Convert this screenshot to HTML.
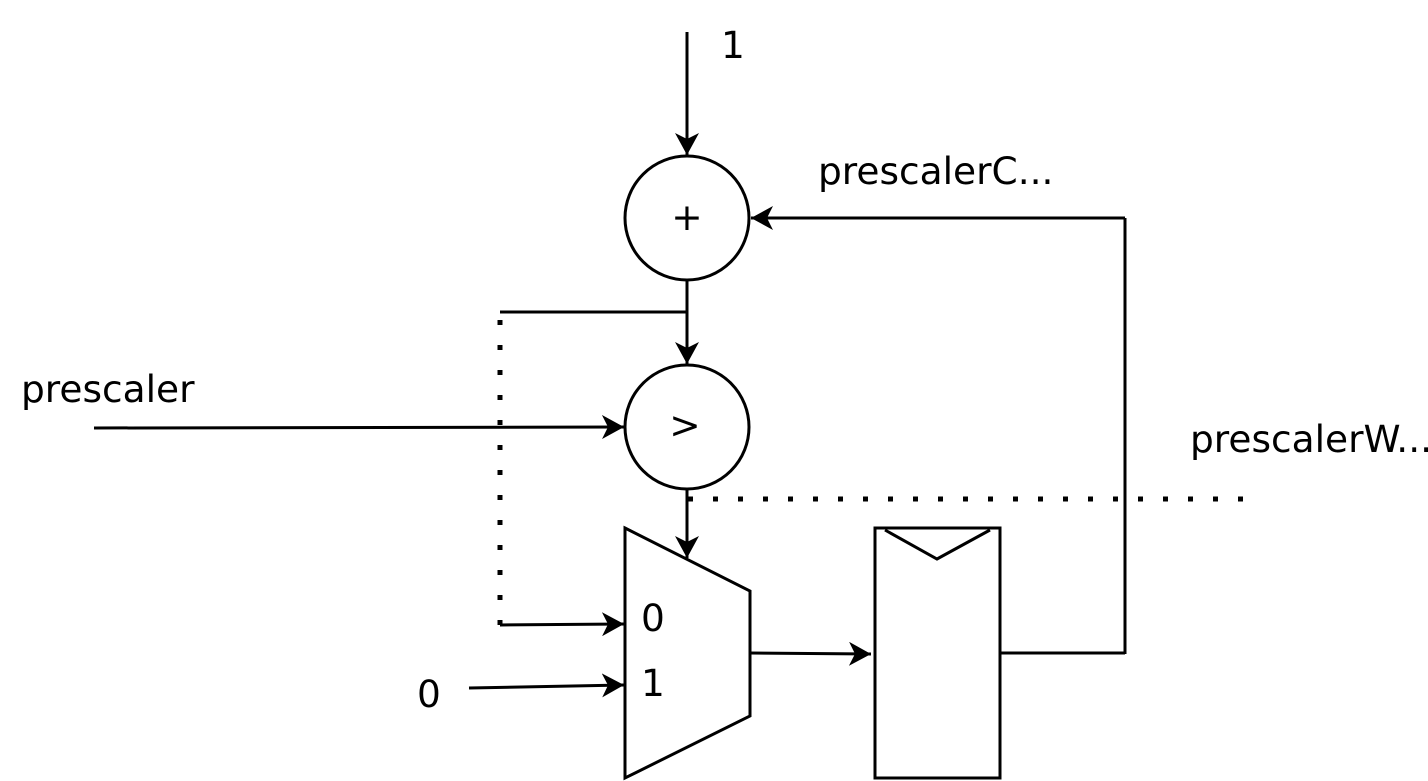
<!DOCTYPE html>
<html><head><meta charset="utf-8"><style>
html,body{margin:0;padding:0;background:#fff;}
svg{display:block;}
text{font-family:"DejaVu Sans","Liberation Sans",sans-serif;font-size:37.5px;fill:#000;}
</style></head><body>
<svg width="1428" height="781" viewBox="0 0 1428 781" xmlns="http://www.w3.org/2000/svg">
<defs>
<marker id="a" markerWidth="24" markerHeight="24" viewBox="0 0 24 24" refX="22" refY="12" orient="auto" markerUnits="userSpaceOnUse">
<path d="M22,12 L0,0 L6,12 L0,24 Z" fill="#000"/>
</marker>
</defs>
<g stroke="#000" stroke-width="3" fill="none">
<circle cx="687" cy="218" r="62" fill="#fff"/>
<circle cx="687" cy="427" r="62" fill="#fff"/>
<polygon points="625,528 750,591 750,716 625,778" fill="#fff"/>
<rect x="875" y="528" width="125" height="250" fill="#fff"/>
<polyline points="885,530 937,559 990,530"/>
<line x1="687" y1="32" x2="687" y2="155" marker-end="url(#a)"/>
<line x1="1125" y1="218" x2="751" y2="218" marker-end="url(#a)"/>
<line x1="1125" y1="218" x2="1125" y2="654"/>
<line x1="1000" y1="653" x2="1125" y2="653"/>
<line x1="687" y1="280" x2="687" y2="364" marker-end="url(#a)"/>
<line x1="500" y1="312" x2="687" y2="312"/>
<line x1="94" y1="428" x2="624" y2="427" marker-end="url(#a)"/>
<line x1="687" y1="489" x2="687" y2="558" marker-end="url(#a)"/>
<line x1="500" y1="625" x2="624" y2="624" marker-end="url(#a)"/>
<line x1="469" y1="688" x2="624" y2="685" marker-end="url(#a)"/>
<line x1="750" y1="653" x2="871" y2="654" marker-end="url(#a)"/>
</g>
<g stroke="#000" stroke-width="5" fill="none" stroke-dasharray="5 20">
<line x1="500" y1="320" x2="500" y2="630"/>
<line x1="688" y1="499" x2="1250" y2="499"/>
</g>
<text x="721" y="58">1</text>
<text x="818" y="184">prescalerC...</text>
<text x="21" y="402">prescaler</text>
<text x="1190" y="452">prescalerW...</text>
<text x="417" y="707">0</text>
<text x="687" y="230" text-anchor="middle">+</text>
<text x="685" y="438" text-anchor="middle">&gt;</text>
<text x="641" y="631">0</text>
<text x="641" y="696">1</text>
</svg>
</body></html>
